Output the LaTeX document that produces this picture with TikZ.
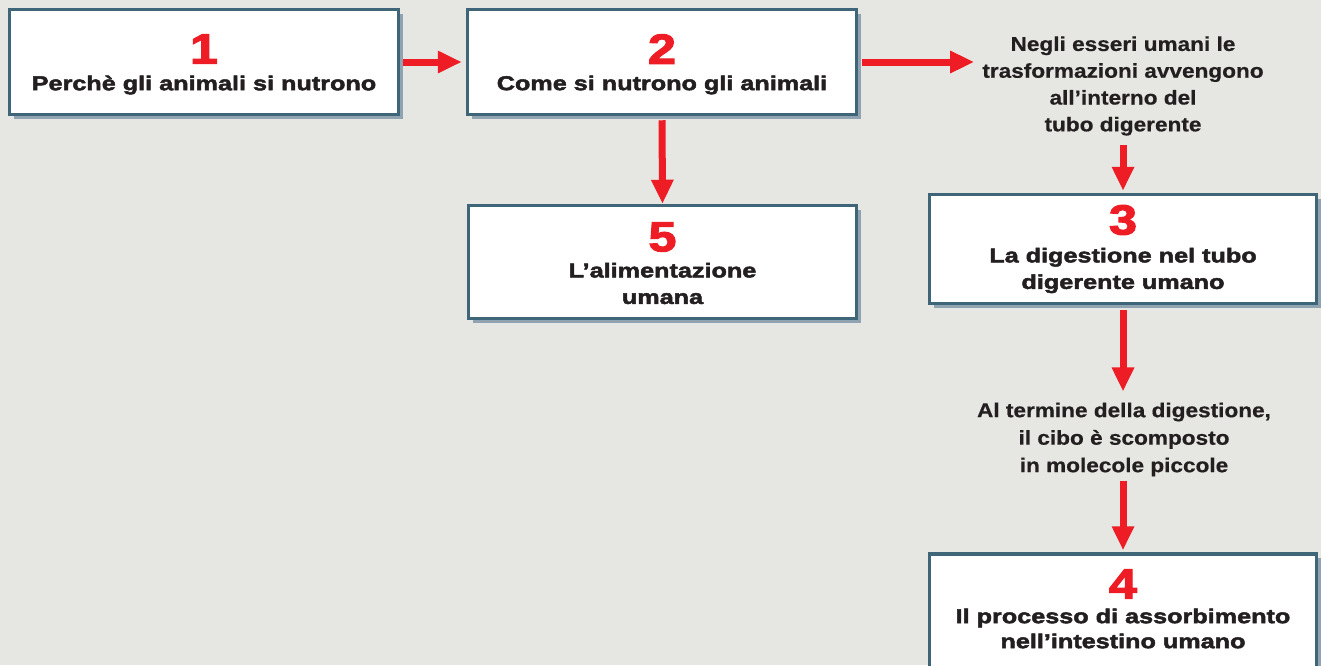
\documentclass[tikz,border=0pt]{standalone}
\usepackage{fontspec}
\setmainfont{Liberation Sans}
\newfontfamily\heavyfont{Liberation Sans}[BoldFeatures={FakeBold=2.4,FakeStretch=1.26}]
\newfontfamily\numfont{Liberation Sans}[BoldFeatures={FakeBold=2.8,FakeStretch=1.2}]
\newfontfamily\freefont{Liberation Sans}[BoldFeatures={FakeBold=0.6,FakeStretch=1.13}]
\usetikzlibrary{arrows.meta,shadows}
\definecolor{bgc}{HTML}{E6E6E2}
\definecolor{redc}{HTML}{EE1C25}
\definecolor{bordc}{HTML}{3E6578}
\definecolor{shadc}{HTML}{8FA3B0}
\definecolor{txtc}{HTML}{231F20}
\tikzset{
  boxnode/.style={draw=bordc, line width=3.5pt, fill=white, rectangle, inner sep=0pt,
    drop shadow={shadow xshift=4pt, shadow yshift=-4pt, fill=shadc, opacity=1}},
  numtext/.style={text=redc, font=\numfont\bfseries\fontsize{42}{42}\selectfont, inner sep=0pt},
  titletext/.style={text=txtc, font=\heavyfont\bfseries\fontsize{20}{26.5}\selectfont, align=center, inner sep=0pt},
  freetext/.style={text=txtc, font=\freefont\bfseries\fontsize{20}{26.8}\selectfont, align=center, inner sep=0pt},
  redarrow/.style={draw=redc, line width=7pt, -{Triangle[width=21pt,length=24pt]}}
}
\begin{document}
\begin{tikzpicture}[x=1pt,y=-1pt]
\fill[bgc] (0,0) rectangle (1321,665);
\useasboundingbox (0,0) rectangle (1321,665);
\begin{scope}
\clip (0,0) rectangle (1321,665);
% boxes
\node[boxnode, minimum width=389pt, minimum height=105pt] (b1) at (204,62) {};
\node[boxnode, minimum width=389pt, minimum height=105pt] (b2) at (662,62) {};
\node[boxnode, minimum width=388pt, minimum height=113pt] (b5) at (662.5,262) {};
\node[boxnode, minimum width=387pt, minimum height=109pt] (b3) at (1123,249) {};
\node[boxnode, minimum width=387pt, minimum height=120pt] (b4) at (1123,614) {};
% box texts
\node[numtext] (n1) at (204,49) {1};
\node[titletext] (t1) at (204,85) {Perchè gli animali si nutrono};
\node[numtext] (n2) at (662,49) {2};
\node[titletext] (t2) at (662,85) {Come si nutrono gli animali};
\node[numtext] (n5) at (662.5,237) {5};
\node[titletext] (t5) at (662.5,283.5) {L’alimentazione\\umana};
\node[numtext] (n3) at (1123,220) {3};
\node[titletext] (t3) at (1123,270.5) {La digestione nel tubo\\digerente umano};
\node[numtext] (n4) at (1123,584) {4};
\node[titletext, font=\heavyfont\bfseries\fontsize{20}{25}\selectfont] (t4) at (1123,628.5) {Il processo di assorbimento\\nell’intestino umano};
% free texts
\node[freetext] (f1) at (1123,86) {Negli esseri umani le\\trasformazioni avvengono\\all’interno del\\tubo digerente};
\node[freetext, font=\freefont\bfseries\fontsize{20}{27.5}\selectfont] (f2) at (1124,439.5) {Al termine della digestione,\\il cibo è scomposto\\in molecole piccole};
% arrows
\draw[redarrow, shorten <=3pt, shorten >=4pt] (b1.east) -- (b2.west);
\draw[redarrow, shorten <=4pt, shorten >=8pt] (b2.east) -- (b2.east -| f1.west);
\draw[redarrow, shorten <=4pt, shorten >=0pt] (b2.south) -- (b5.north);
\draw[redarrow, shorten <=9pt, shorten >=2pt] (f1.south) -- (b3.north);
\draw[redarrow, shorten <=5pt, shorten >=11pt] (b3.south) -- (b3.south |- f2.north);
\draw[redarrow, shorten <=4pt, shorten >=2pt] (b4.north |- f2.south) -- (b4.north);
\end{scope}
\end{tikzpicture}
\end{document}
